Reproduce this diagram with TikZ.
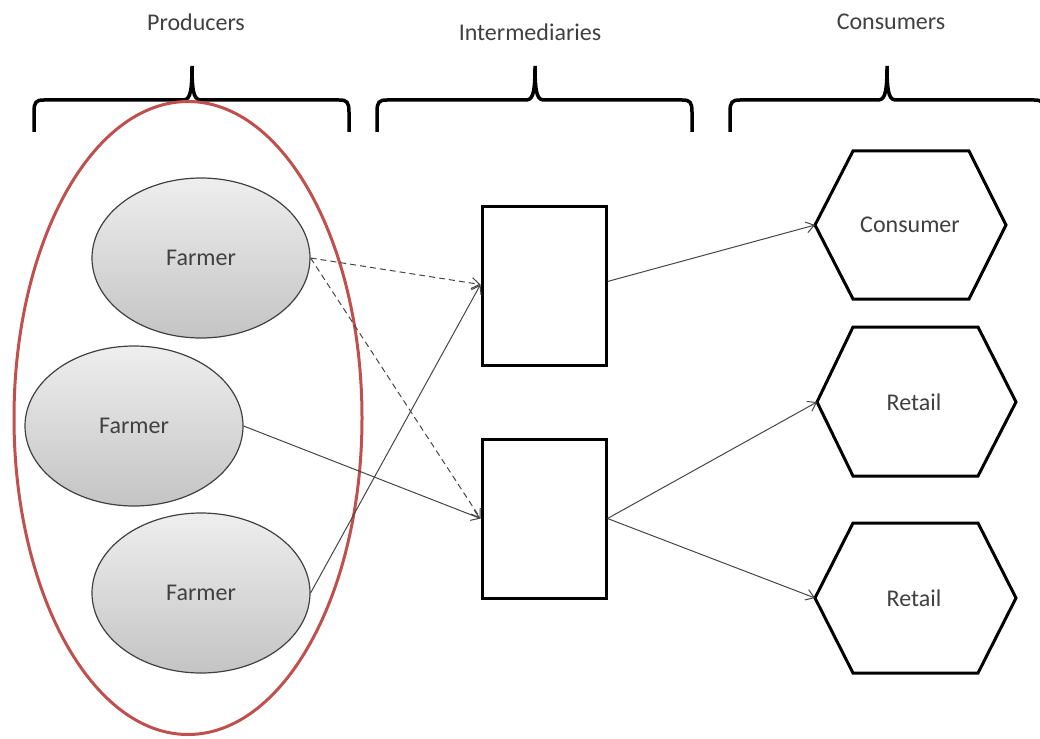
\documentclass[tikz,border=0pt]{standalone}
\usepackage{fontspec}
\setmainfont{Carlito}
\usetikzlibrary{shapes.geometric,arrows.meta}
\definecolor{txt}{RGB}{64,64,64}
\definecolor{grpred}{RGB}{192,80,77}
\definecolor{conn}{RGB}{70,70,70}
\definecolor{ftop}{RGB}{238,238,238}
\definecolor{fbot}{RGB}{196,196,196}
\tikzset{
  lbl/.style={font=\fontsize{24}{28}\selectfont, text=txt, inner sep=0pt},
  farmer/.style={ellipse, draw=black!75, line width=1.2pt, top color=ftop, bottom color=fbot,
    minimum width=218pt, minimum height=160pt, inner sep=0pt, font=\fontsize{24}{28}\selectfont, text=txt},
  inter/.style={rectangle, draw=black, line width=3pt, fill=white, minimum width=124pt, minimum height=159pt, inner sep=0pt},
  hexa/.style={draw=black, line width=3pt, line join=miter},
  bracestyle/.style={draw=black, line width=3.5pt, line cap=butt},
  flow/.style={draw=conn, line width=1pt, -{Straight Barb[length=8pt,width=11pt]}},
  dflow/.style={flow, dash pattern=on 6pt off 4pt},
  group/.style={ellipse, draw=grpred, line width=3pt, minimum width=348pt, minimum height=633pt, inner sep=0pt}
}
\begin{document}
\begin{tikzpicture}[x=1pt,y=-1pt]
\useasboundingbox (0,0) rectangle (1040,738);

% column labels
\node[lbl] (lp) at (196,22) {Producers};
\node[lbl] (li) at (530,32) {Intermediaries};
\node[lbl] (lc) at (891,22) {Consumers};

% braces
\draw[bracestyle] (34,132) -- (34,112) .. controls (34,102) and (36,100) .. (44,100) -- (182,100)
  .. controls (189,100) and (192,97) .. (192,66)
  .. controls (192,97) and (195,100) .. (202,100) -- (339,100)
  .. controls (347,100) and (349,102) .. (349,112) -- (349,132);
\draw[bracestyle] (377,132) -- (377,112) .. controls (377,102) and (379,100) .. (387,100) -- (525,100)
  .. controls (532,100) and (535,97) .. (535,66)
  .. controls (535,97) and (538,100) .. (545,100) -- (682,100)
  .. controls (690,100) and (692,102) .. (692,112) -- (692,132);
\draw[bracestyle] (730,132) -- (730,112) .. controls (730,102) and (732,100) .. (740,100) -- (877,100)
  .. controls (884,100) and (887,97) .. (887,66)
  .. controls (887,97) and (890,100) .. (897,100) -- (1034,100)
  .. controls (1042,100) and (1044,102) .. (1044,112) -- (1044,132);

% producer group
\node[group] (grp) at (188,418) {};

% farmers
\node[farmer] (f1) at (201,258) {Farmer};
\node[farmer] (f2) at (134,426) {Farmer};
\node[farmer] (f3) at (201,593) {Farmer};

% intermediaries
\node[inter] (i1) at (544,285.5) {};
\node[inter] (i2) at (544,518.5) {};

% consumers (hexagons)
\draw[hexa] (815,225) -- (853,151) -- (969,151) -- (1006,225) -- (969,299) -- (853,299) -- cycle;
\coordinate (c1w) at (815,225);
\node[lbl] (c1) at (910,225) {Consumer};

\draw[hexa] (817,402) -- (853,327) -- (978,327) -- (1016,402) -- (978,476) -- (853,476) -- cycle;
\coordinate (c2w) at (817,402);
\node[lbl] (c2) at (914,402) {Retail};

\draw[hexa] (815,598) -- (853,523) -- (978,523) -- (1016,598) -- (978,673) -- (853,673) -- cycle;
\coordinate (c3w) at (815,598);
\node[lbl] (c3) at (914,598) {Retail};

% connectors
\draw[dflow] (f1.east) -- ([yshift=1pt]i1.west);
\draw[dflow] (f1.east) -- (i2.west);
\draw[flow] (f2.east) -- (i2.west);
\draw[flow] (f3.east) -- ([yshift=1pt]i1.west);
\draw[flow] ([yshift=4pt]i1.east) -- (c1w);
\draw[flow] (i2.east) -- (c2w);
\draw[flow] (i2.east) -- (c3w);
\end{tikzpicture}
\end{document}
